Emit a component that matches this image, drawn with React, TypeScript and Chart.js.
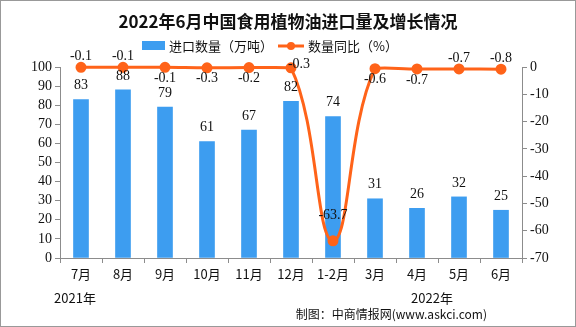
import React, { useEffect, useRef } from "react";
import { Chart, registerables } from "chart.js";

Chart.register(...registerables);

const categories = ["7月", "8月", "9月", "10月", "11月", "12月", "1-2月", "3月", "4月", "5月", "6月"];
const importVolume = [83, 88, 79, 61, 67, 82, 74, 31, 26, 32, 25];
const yoyChange = [-0.1, -0.1, -0.1, -0.3, -0.2, -0.3, -63.7, -0.6, -0.7, -0.7, -0.8];
const yoyLabelSide = ["above", "above", "below", "below", "below", "center", "aboveFar", "below", "below", "above", "above"];
const leftTicks = [0, 10, 20, 30, 40, 50, 60, 70, 80, 90, 100];
const rightTicks = [-70, -60, -50, -40, -30, -20, -10, 0];
const title = "2022年6月中国食用植物油进口量及增长情况";
const seriesNames = ["进口数量（万吨）", "数量同比（%）"];
const yearLabels = ["2021年", "2022年"];
const sourceText = "制图：中商情报网(www.askci.com)";

const BLUE = "#3d9df0";
const ORANGE = "#ff6319";
const AXIS = "#8c8c8c";
const NUM_FONT = "14px 'Liberation Serif', 'Noto Sans CJK SC', serif";
const CJK_FONT = "13px 'Noto Sans CJK SC', sans-serif";

const decorPlugin = {
  id: "decor",
  afterDraw(chart: any) {
    const ctx = chart.ctx;
    const { width, height } = chart;
    const area = chart.chartArea;
    ctx.save();
    ctx.strokeStyle = "#999";
    ctx.lineWidth = 1;
    ctx.strokeRect(0.5, 0.5, width - 1, height - 1);
    ctx.fillStyle = "#111";
    ctx.font = "bold 17px 'Noto Sans CJK SC', serif";
    ctx.textAlign = "center";
    ctx.textBaseline = "middle";
    ctx.fillText(title, 288, 22);
    ctx.fillStyle = BLUE;
    ctx.fillRect(142, 41, 23, 9);
    ctx.fillStyle = "#111";
    ctx.font = CJK_FONT;
    ctx.textAlign = "left";
    ctx.fillText(seriesNames[0], 169, 46);
    ctx.strokeStyle = ORANGE;
    ctx.lineWidth = 3;
    ctx.beginPath();
    ctx.moveTo(278, 46);
    ctx.lineTo(304, 46);
    ctx.stroke();
    ctx.fillStyle = ORANGE;
    ctx.beginPath();
    ctx.arc(291, 46, 4, 0, Math.PI * 2);
    ctx.fill();
    ctx.fillStyle = "#111";
    ctx.fillText(seriesNames[1], 308, 46);

    const barMeta = chart.getDatasetMeta(0);
    ctx.font = NUM_FONT;
    ctx.textAlign = "center";
    ctx.textBaseline = "middle";
    barMeta.data.forEach((el: any, i: number) => {
      ctx.fillStyle = "#111";
      ctx.fillText(String(importVolume[i]), el.x, el.y - 14);
    });
    const lineMeta = chart.getDatasetMeta(1);
    lineMeta.data.forEach((el: any, i: number) => {
      const side = yoyLabelSide[i];
      let x = el.x;
      let y = el.y;
      if (side === "above") y -= 11;
      else if (side === "below") y += 11;
      else if (side === "aboveFar") y -= 25;
      else if (side === "center") { x += 8; y -= 3; }
      const txt = yoyChange[i].toFixed(1);
      ctx.fillStyle = "#111";
      ctx.fillText(txt, x, y);
    });
    const xs = chart.scales.x;
    ctx.font = CJK_FONT;
    ctx.fillStyle = "#111";
    ctx.textAlign = "center";
    ctx.fillText(yearLabels[0], xs.getPixelForValue(0) - 6, area.bottom + 40);
    ctx.fillText(yearLabels[1], xs.getPixelForValue(categories.length - 1) - 69, area.bottom + 40);
    ctx.font = "12px 'Noto Sans CJK SC', sans-serif";
    ctx.textAlign = "right";
    ctx.fillText(sourceText, 487, 314);
    ctx.restore();
  },
};

export default function App() {
  const ref = useRef<HTMLCanvasElement>(null);
  useEffect(() => {
    document.body.style.margin = "0";
    const chart = new Chart(ref.current!, {
      type: "bar",
      data: {
        labels: categories,
        datasets: [
          {
            type: "bar",
            data: importVolume,
            backgroundColor: BLUE,
            barThickness: 15,
            yAxisID: "y",
            order: 2,
          },
          {
            type: "line",
            data: yoyChange,
            borderColor: ORANGE,
            backgroundColor: ORANGE,
            borderWidth: 3,
            pointRadius: 4,
            pointHoverRadius: 4,
            tension: 0.4,
            yAxisID: "y1",
            clip: false as any,
            order: 1,
          },
        ],
      },
      options: {
        animation: false,
        responsive: false,
        events: [],
        layout: { padding: { left: 0, right: 0, top: 67, bottom: 39 } },
        plugins: { legend: { display: false }, tooltip: { enabled: false }, title: { display: false } },
        scales: {
          x: {
            grid: { display: true, drawOnChartArea: false, offset: true, color: AXIS, tickLength: 5 },
            border: { color: AXIS },
            ticks: { color: "#111", font: { family: "'Noto Sans CJK SC'", size: 13 }, padding: 3, autoSkip: false, maxRotation: 0 },
            afterFit(s: any) { s.height = 30; },
          },
          y: {
            position: "left",
            min: 0,
            max: 100,
            afterBuildTicks(s: any) { s.ticks = leftTicks.map((v) => ({ value: v })); },
            grid: { display: true, drawOnChartArea: false, color: AXIS, tickLength: 5 },
            border: { color: AXIS },
            ticks: { color: "#111", font: { family: "'Liberation Serif'", size: 14 }, padding: 3, autoSkip: false },
            afterFit(s: any) { s.width = 60; },
          },
          y1: {
            position: "right",
            min: -70,
            max: 0,
            afterBuildTicks(s: any) { s.ticks = rightTicks.map((v) => ({ value: v })); },
            grid: { display: true, drawOnChartArea: false, color: AXIS, tickLength: 5 },
            border: { color: AXIS },
            ticks: { color: "#111", font: { family: "'Liberation Serif'", size: 14 }, padding: 3, autoSkip: false },
            afterFit(s: any) { s.width = 54; },
          },
        },
      },
      plugins: [decorPlugin],
    });
    return () => chart.destroy();
  }, []);
  return <canvas ref={ref} width={576} height={327} style={{ display: "block" }} />;
}
